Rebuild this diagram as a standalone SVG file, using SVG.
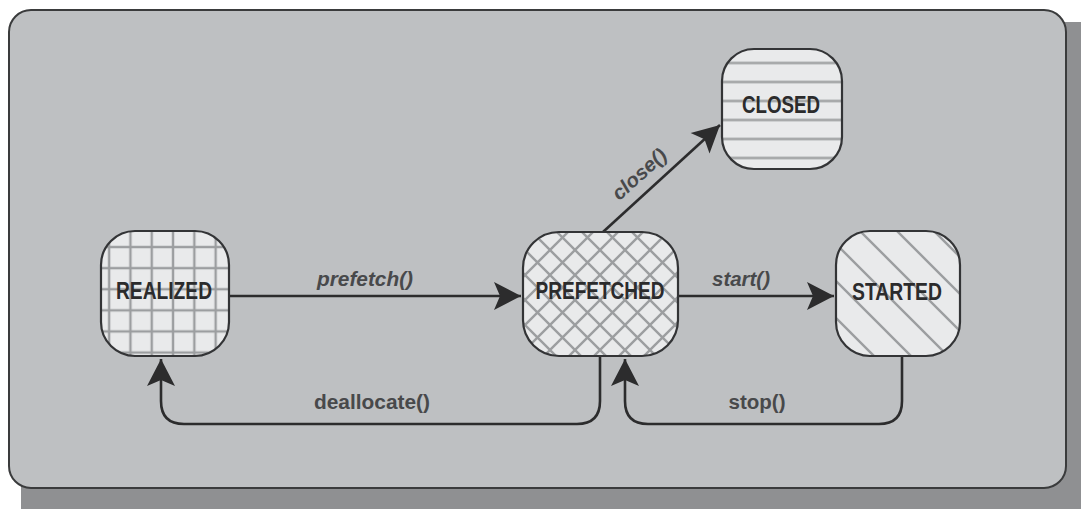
<svg xmlns="http://www.w3.org/2000/svg" width="1081" height="509" viewBox="0 0 1081 509">
<style>
.node{stroke:#333436;stroke-width:2.2}
.ntext{font-family:"Liberation Sans Narrow","Liberation Sans",Arial,sans-serif;font-weight:bold;font-size:24px;fill:#2b2b2c;text-anchor:middle}
.edge{fill:none;stroke:#2c2c2d;stroke-width:2.6}
.lbl{font-family:"Liberation Sans",Arial,sans-serif;font-weight:bold;font-size:20px;fill:#48494b}
.it{font-style:italic}
.hatch{stroke:#9c9ea0;stroke-width:2.4;fill:none}
</style>
<defs>
<pattern id="grid" patternUnits="userSpaceOnUse" x="98.5" y="236.5" width="21.3" height="21.1">
<rect width="21.3" height="21.1" fill="#e9eaeb"/>
<path class="hatch" d="M10.65,0 V21.1 M0,10.55 H21.3"/>
</pattern>
<pattern id="cross" patternUnits="userSpaceOnUse" x="0" y="0" width="25" height="25">
<rect width="25" height="25" fill="#e9eaeb"/>
<path class="hatch" d="M0,0 L25,25 M25,0 L0,25 M-5,20 L5,30 M20,-5 L30,5 M-5,5 L5,-5 M20,30 L30,20"/>
</pattern>
<pattern id="diag" patternUnits="userSpaceOnUse" x="0" y="0" width="37" height="37">
<rect width="37" height="37" fill="#e9eaeb"/>
<path class="hatch" d="M0,0 L37,37 M-5,32 L5,42 M32,-5 L42,5"/>
</pattern>
<pattern id="horiz" patternUnits="userSpaceOnUse" x="0" y="53.5" width="20" height="19">
<rect width="20" height="19" fill="#e9eaeb"/>
<path class="hatch" d="M0,9.5 H20"/>
</pattern>
<marker id="arr" markerUnits="userSpaceOnUse" viewBox="-1 -16 30 32" markerWidth="30" markerHeight="32" refX="27" refY="0" orient="auto">
<path d="M0,-14 L27,0 L0,14 L6,0 Z" fill="#2c2c2d"/>
</marker>
</defs>
<rect x="0" y="0" width="1081" height="509" fill="#ffffff"/>
<rect x="21" y="22" width="1080" height="510" rx="22" fill="#8f9092"/>
<rect x="9" y="10" width="1057" height="478" rx="22" fill="#bec0c2" stroke="#3a3b3c" stroke-width="2"/>
<g id="connectors">
<path class="edge" d="M229,296 H521" marker-end="url(#arr)"/>
<path class="edge" d="M678,296 H834" marker-end="url(#arr)"/>
<path class="edge" d="M603,232 L720,125" marker-end="url(#arr)"/>
<path class="edge" d="M600,356 V401 Q600,424 577,424 H184 Q161,424 161,401 V359" marker-end="url(#arr)"/>
<path class="edge" d="M902,356 V401 Q902,424 879,424 H648 Q625,424 625,401 V359" marker-end="url(#arr)"/>
<text class="lbl it" x="365" y="286" text-anchor="middle" textLength="96" lengthAdjust="spacingAndGlyphs">prefetch()</text>
<text class="lbl it" x="741" y="286" text-anchor="middle" textLength="58" lengthAdjust="spacingAndGlyphs">start()</text>
<text class="lbl it" x="639" y="181" text-anchor="middle" transform="rotate(-42 639 174)" textLength="66" lengthAdjust="spacingAndGlyphs">close()</text>
<text class="lbl" x="372" y="409" text-anchor="middle" textLength="116" lengthAdjust="spacingAndGlyphs">deallocate()</text>
<text class="lbl" x="757" y="409" text-anchor="middle" textLength="57" lengthAdjust="spacingAndGlyphs">stop()</text>
</g>
<g id="realized">
<rect class="node" x="101" y="231" width="128" height="125" rx="34" fill="url(#grid)"/>
<text class="ntext" x="164" y="299" textLength="96" lengthAdjust="spacingAndGlyphs">REALIZED</text>
</g>
<g id="prefetched">
<rect class="node" x="523" y="232" width="155" height="124" rx="36" fill="url(#cross)"/>
<text class="ntext" x="600" y="299" textLength="129" lengthAdjust="spacingAndGlyphs">PREFETCHED</text>
</g>
<g id="started">
<rect class="node" x="836" y="231" width="124" height="125" rx="34" fill="url(#diag)"/>
<text class="ntext" x="897" y="300" textLength="90" lengthAdjust="spacingAndGlyphs">STARTED</text>
</g>
<g id="closed">
<rect class="node" x="722" y="49" width="120" height="120" rx="32" fill="url(#horiz)"/>
<text class="ntext" x="781" y="113" textLength="78" lengthAdjust="spacingAndGlyphs">CLOSED</text>
</g>
</svg>
